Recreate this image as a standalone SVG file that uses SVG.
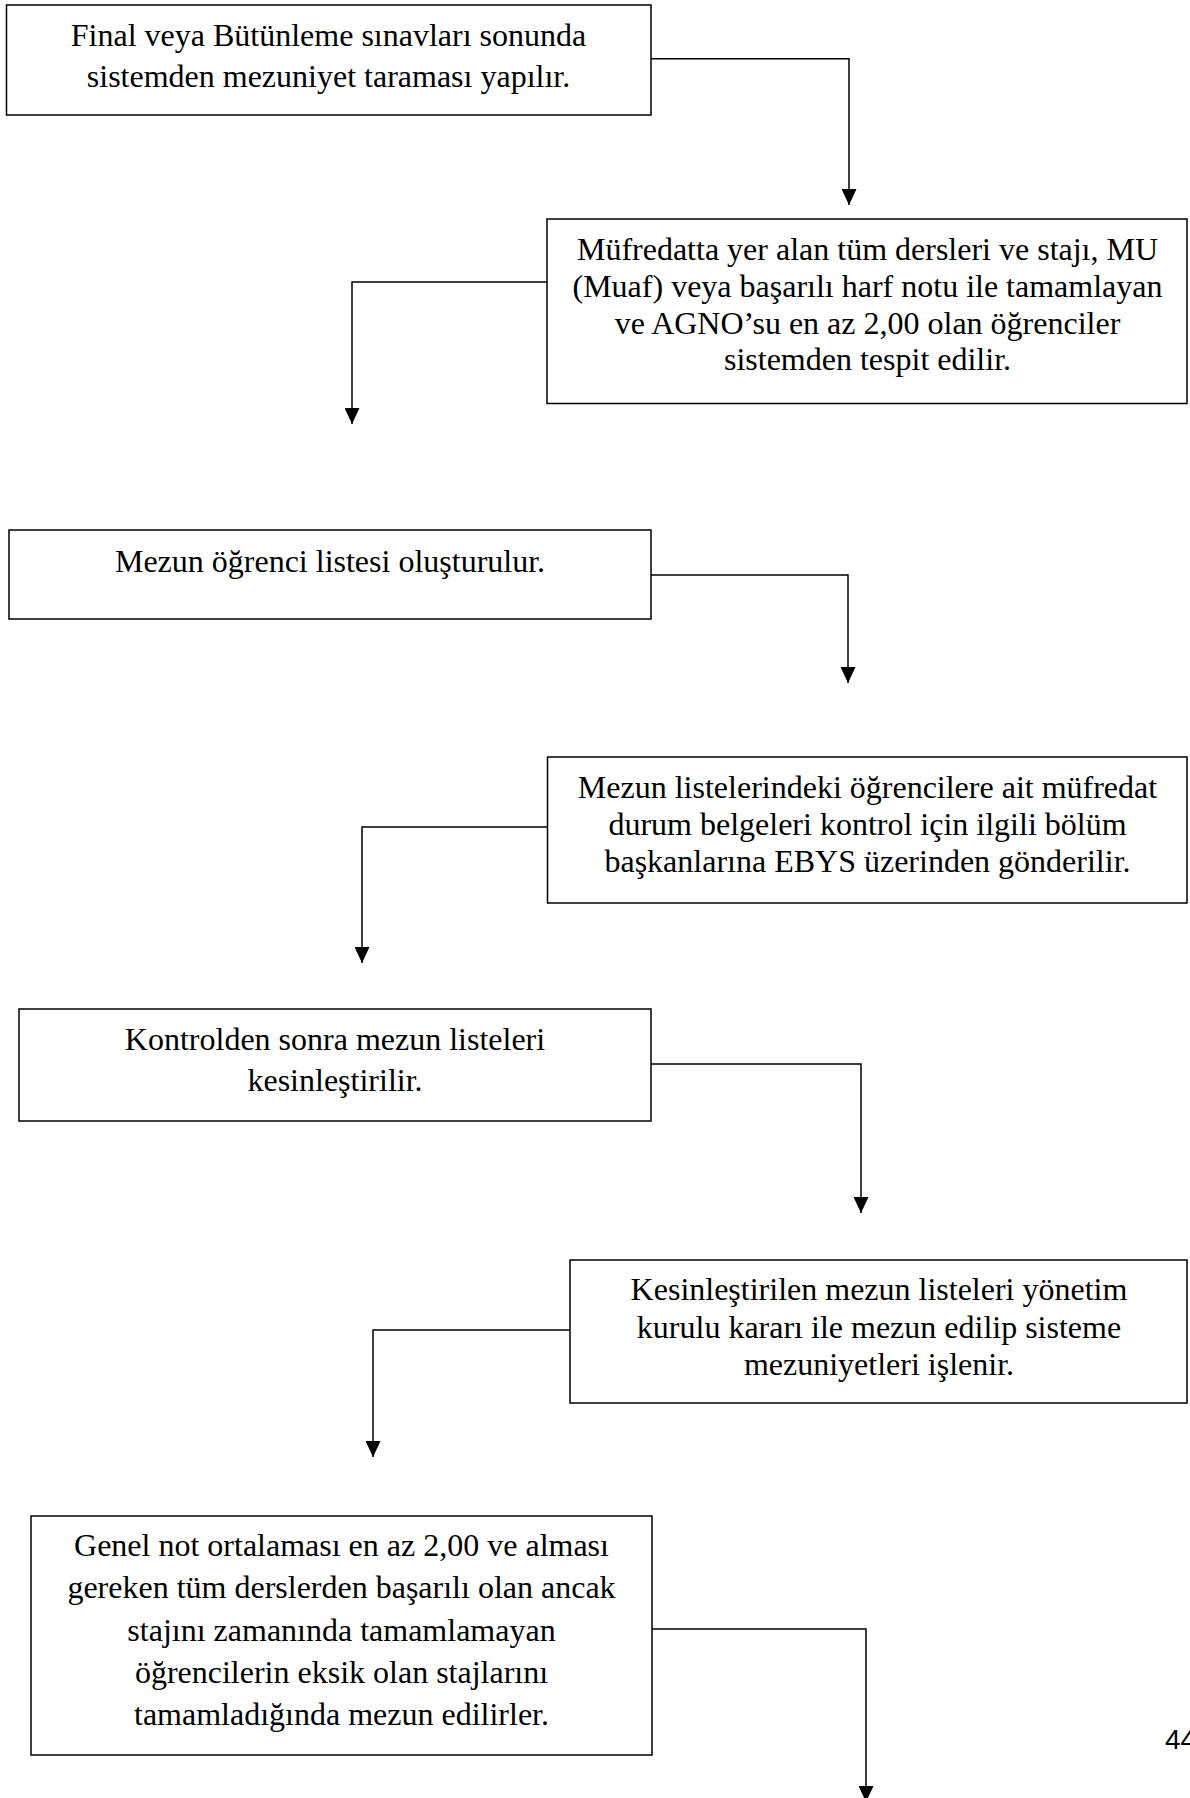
<svg xmlns="http://www.w3.org/2000/svg" width="1190" height="1798" viewBox="0 0 1190 1798">
<defs>
<style>
.box{fill:#fff;stroke:#000;stroke-width:1.5}
.t{font-family:"Liberation Serif","Times New Roman",serif;font-size:32px;fill:#000;text-anchor:middle}
.c{fill:none;stroke:#000;stroke-width:1.5}
.pg{font-family:"Liberation Sans",Arial,sans-serif;font-size:28px;fill:#000}
</style>
<marker id="ah" viewBox="0 -7.5 16 15" refX="16" refY="0" markerWidth="16" markerHeight="15" markerUnits="userSpaceOnUse" orient="auto">
<path d="M0,-7.5 L16,0 L0,7.5 z" fill="#000"/>
</marker>
</defs>
<rect width="1190" height="1798" fill="#fff"/>
<g id="connectors">
<path class="c" d="M651,58.7 H849 V205" marker-end="url(#ah)"/>
<path class="c" d="M547,282 H352 V424" marker-end="url(#ah)"/>
<path class="c" d="M651,575 H848 V683" marker-end="url(#ah)"/>
<path class="c" d="M547,827 H362 V963" marker-end="url(#ah)"/>
<path class="c" d="M651,1064 H861 V1213" marker-end="url(#ah)"/>
<path class="c" d="M570,1330 H373 V1457" marker-end="url(#ah)"/>
<path class="c" d="M652,1629 H866 V1802" marker-end="url(#ah)"/>
</g>
<g id="n1">
<rect class="box" x="6.5" y="5" width="644.5" height="110"/>
<text class="t" x="328.5" y="45.5">Final veya Bütünleme sınavları sonunda</text>
<text class="t" x="328.5" y="87">sistemden mezuniyet taraması yapılır.</text>
</g>
<g id="n2">
<rect class="box" x="547" y="219" width="640" height="184.5"/>
<text class="t" x="867.5" y="260">Müfredatta yer alan tüm dersleri ve stajı, MU</text>
<text class="t" x="867.5" y="297">(Muaf) veya başarılı harf notu ile tamamlayan</text>
<text class="t" x="867.5" y="333.5">ve AGNO’su en az 2,00 olan öğrenciler</text>
<text class="t" x="867.5" y="370">sistemden tespit edilir.</text>
</g>
<g id="n3">
<rect class="box" x="9" y="530" width="642" height="89"/>
<text class="t" x="330" y="572">Mezun öğrenci listesi oluşturulur.</text>
</g>
<g id="n4">
<rect class="box" x="547.5" y="757" width="639.5" height="146"/>
<text class="t" x="867.5" y="798">Mezun listelerindeki öğrencilere ait müfredat</text>
<text class="t" x="867.5" y="835">durum belgeleri kontrol için ilgili bölüm</text>
<text class="t" x="867.5" y="872">başkanlarına EBYS üzerinden gönderilir.</text>
</g>
<g id="n5">
<rect class="box" x="19" y="1009" width="632" height="112"/>
<text class="t" x="335" y="1050">Kontrolden sonra mezun listeleri</text>
<text class="t" x="335" y="1091">kesinleştirilir.</text>
</g>
<g id="n6">
<rect class="box" x="570" y="1260" width="617" height="143"/>
<text class="t" x="879" y="1300">Kesinleştirilen mezun listeleri yönetim</text>
<text class="t" x="879" y="1338">kurulu kararı ile mezun edilip sisteme</text>
<text class="t" x="879" y="1375">mezuniyetleri işlenir.</text>
</g>
<g id="n7">
<rect class="box" x="31" y="1516" width="621" height="239"/>
<text class="t" x="341.5" y="1556">Genel not ortalaması en az 2,00 ve alması</text>
<text class="t" x="341.5" y="1598">gereken tüm derslerden başarılı olan ancak</text>
<text class="t" x="341.5" y="1641">stajını zamanında tamamlamayan</text>
<text class="t" x="341.5" y="1683">öğrencilerin eksik olan stajlarını</text>
<text class="t" x="341.5" y="1725">tamamladığında mezun edilirler.</text>
</g>
<text class="pg" x="1165" y="1749">44</text>
</svg>
